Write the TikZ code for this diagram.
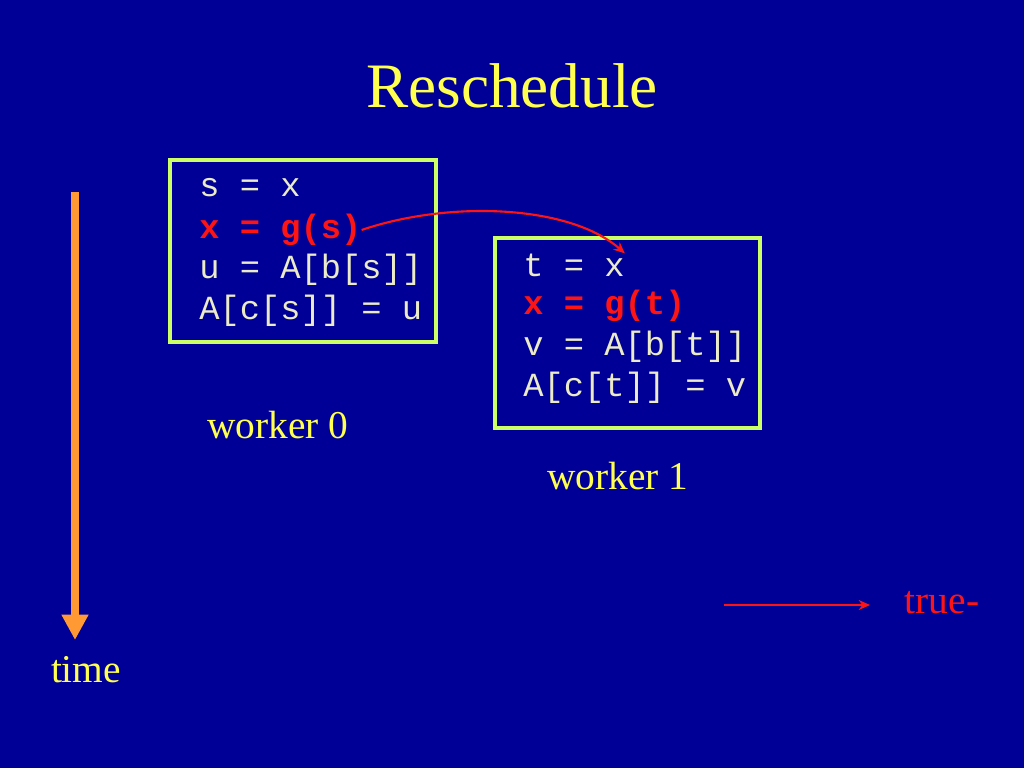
\documentclass[tikz,border=0pt]{standalone}
\usepackage{fontspec}
\setmainfont{Liberation Serif}
\setmonofont{Liberation Mono}
\usetikzlibrary{arrows.meta}
\definecolor{bgblue}{RGB}{0,0,150}
\definecolor{titleyel}{RGB}{255,255,80}
\definecolor{boxgreen}{RGB}{204,255,102}
\definecolor{codecol}{RGB}{235,235,200}
\definecolor{hired}{RGB}{255,20,20}
\definecolor{timeor}{RGB}{255,153,51}
\tikzset{
	codebox/.style={draw=boxgreen, line width=2.2pt, anchor=north west, inner sep=0pt},
	codeline/.style={anchor=west, text=codecol, font=\ttfamily\fontsize{24}{26}\selectfont, inner sep=0pt},
	hotline/.style={codeline, text=hired, font=\ttfamily\bfseries\fontsize{24}{26}\selectfont},
	label/.style={text=titleyel, font=\fontsize{28}{32}\selectfont}
}
\begin{document}
\begin{tikzpicture}[x=0.025cm,y=-0.025cm]
	\fill[bgblue] (0,0) rectangle (1024,768);
	\node[text=titleyel, font=\fontsize{45}{50}\selectfont](T) at (512,86){Reschedule};
	
	\draw[codebox] (170,160) rectangle (436,342);
	\node[codeline](S1) at (199,188){s = x};
	\node[hotline](S2) at (199,230){x = g(s)};
	\node[codeline](S3) at (199,270){u = A[b[s]]};
	\node[codeline](S4) at (199,311){A[c[s]] = u};
	\node[label](W0) at (278,425){worker 0};
	
	\draw[codebox] (495,238) rectangle (760,428);
	\node[codeline](T1) at (523,265){t = x};
	\node[hotline](T2) at (523,306){x = g(t)};
	\node[codeline](T3) at (523,347){v = A[b[t]]};
	\node[codeline](T4) at (523,388){A[c[t]] = v};
	\node[label](W1) at (618,476){worker 1};
	
	\draw[hired, line width=1.5pt, -{Stealth[length=8pt,width=7pt]}] (S2.east) .. controls (450,200) and (570,205) .. (T1.north east);
	
	\coordinate(TA) at (75,192);
	\coordinate(TB) at (75,640);
	\draw[timeor, line width=6pt, -{Triangle[length=18pt,width=18pt]}] (TA) -- (TB);
	\node[label](TIME) at (86,670){time};
	
	\node[text=hired, font=\fontsize{28}{32}\selectfont](TR) at (942,603){true-};
	\coordinate(TL) at (724,605);
	\coordinate(TE) at (870,605);
	\draw[hired, line width=1.5pt, -{Stealth[length=8pt,width=7pt]}] (TL) -- (TE);
\end{tikzpicture}
\end{document}
